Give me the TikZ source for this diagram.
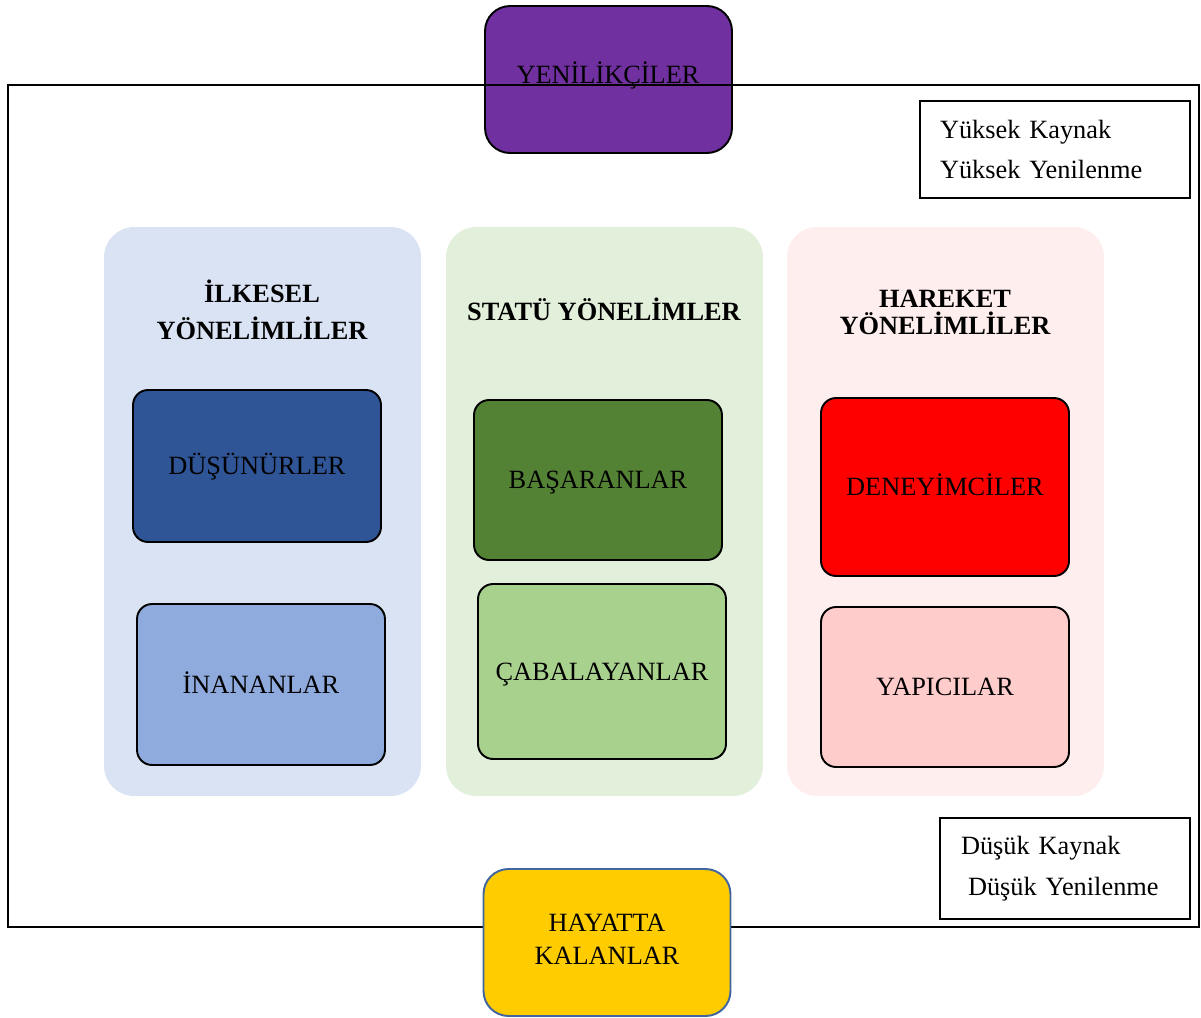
\documentclass[tikz,border=0pt]{standalone}
\usepackage{fontspec}
\setmainfont{Liberation Serif}
\usetikzlibrary{positioning}

\definecolor{morR}{HTML}{7030A0}
\definecolor{maviA}{HTML}{DAE3F3}
\definecolor{yesilA}{HTML}{E2EFDA}
\definecolor{pembeA}{HTML}{FFEEEE}
\definecolor{maviK}{HTML}{2F5597}
\definecolor{maviO}{HTML}{8FAADC}
\definecolor{yesilK}{HTML}{548235}
\definecolor{yesilO}{HTML}{A9D18E}
\definecolor{kirmizi}{HTML}{FF0000}
\definecolor{pembeO}{HTML}{FFCCCC}
\definecolor{sari}{HTML}{FFCC00}
\definecolor{sariCer}{HTML}{41659F}

\begin{document}
\begin{tikzpicture}[x=0.02cm, y=-0.02cm,
  font=\fontsize{15}{18}\selectfont,
  kolon/.style={fill=#1, rounded corners=0.6cm, minimum width=6.34cm, minimum height=11.38cm},
  kutu/.style={draw=black, line width=1.1pt, fill=#1, rounded corners=0.3cm, minimum width=4.96cm, text height=10pt, text depth=0pt},
  baslik/.style={font=\fontsize{15}{18}\selectfont\bfseries, align=center},
  ucbox/.style={line width=1.1pt, fill=#1, rounded corners=0.5cm, minimum width=4.94cm, minimum height=2.94cm},
  lejant/.style={draw=black, fill=white, line width=0.9pt, align=left, font=\fontsize{15}{23}\selectfont}]
\useasboundingbox (0,0) rectangle (1201,1018);

% arka plan kolonlari
\node[kolon=maviA] (k1) at (262.5,511.5) {};
\node[kolon=yesilA] (k2) at (604.5,511.5) {};
\node[kolon=pembeA] (k3) at (945.5,511.5) {};

\node[baslik, font=\fontsize{15}{21}\selectfont\bfseries] (b1) at (262,310) {İLKESEL\\YÖNELİMLİLER};
\node[baslik, text height=10pt, text depth=0pt] (b2) at (604,312) {STATÜ YÖNELİMLER};
\node[baslik, font=\fontsize{15}{15.3}\selectfont\bfseries] (b3) at (945,312) {HAREKET\\YÖNELİMLİLER};

% alt kutular
\node[kutu=maviK, minimum height=3.04cm] (dus) at (257,466) {DÜŞÜNÜRLER};
\node[kutu=maviO, minimum height=3.22cm] (ina) at (261,684.5) {İNANANLAR};
\node[kutu=yesilK, minimum height=3.2cm] (bas) at (598,480) {BAŞARANLAR};
\node[kutu=yesilO, minimum height=3.5cm] (cab) at (602,671.5) {ÇABALAYANLAR};
\node[kutu=kirmizi, minimum height=3.56cm] (den) at (945,487) {DENEYİMCİLER};
\node[kutu=pembeO, minimum height=3.2cm] (yap) at (945,687) {YAPICILAR};

% ust ve alt
\node[ucbox=morR, draw=black] (yen) at (608.5,79.5) {};
\node[text height=10pt, text depth=0pt] (yent) at (608,75) {YENİLİKÇİLER};
\draw[line width=1.1pt] (8,85) rectangle (1199,927);
\node[ucbox=sari, draw=sariCer] (hay) at (607,942.5) {};
\node[align=center, font=\fontsize{15}{18.7}\selectfont] (hayt) at (607,939) {HAYATTA\\KALANLAR};

% lejantlar
\node[lejant, minimum width=5.4cm, minimum height=1.94cm, inner xsep=0.4cm, text width=4.6cm] (yuk) at (1055,149.5) {Yüksek Kaynak\\Yüksek Yenilenme};
\node[lejant, minimum width=5.0cm, minimum height=2.02cm, inner xsep=0.42cm, text width=4.16cm] (dsk) at (1065,868.5) {Düşük Kaynak\\\hspace*{0.14cm}Düşük Yenilenme};
\end{tikzpicture}
\end{document}
